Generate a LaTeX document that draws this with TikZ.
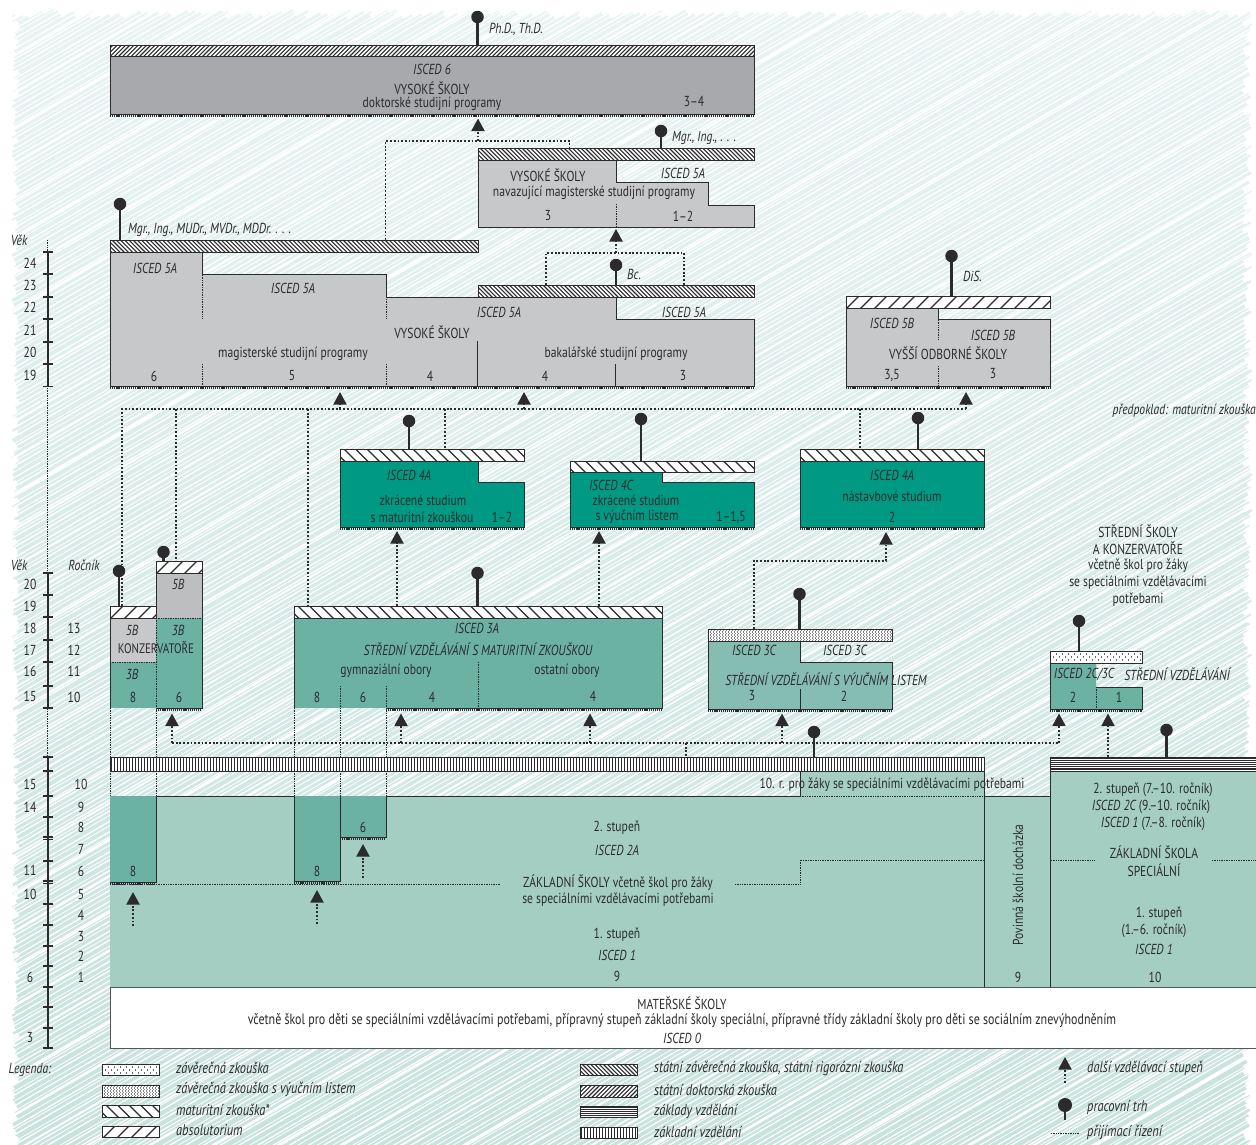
\documentclass[tikz,border=0pt]{standalone}
\usepackage{fontspec}
\setmainfont{PT Sans}[FakeStretch=0.8]
\usetikzlibrary{arrows.meta,calc}
\definecolor{ink}{HTML}{2B2B2D}
\definecolor{greyD}{HTML}{A7A9AC}
\definecolor{greyM}{HTML}{C7C8CA}
\definecolor{greyT}{HTML}{BCBEC0}
\definecolor{tealS}{HTML}{009A84}
\definecolor{tealM}{HTML}{6CB2A3}
\definecolor{tealC}{HTML}{85BDB2}
\definecolor{tealL}{HTML}{A5CEC3}
\definecolor{bgtop}{HTML}{E9F4F3}
\definecolor{bgbot}{HTML}{C8E2DC}
\newcounter{lb}
\newcommand\lab[4][]{\stepcounter{lb}\node[txt,#1] (t\thelb) at (#2,#3) {#4};}
\newcommand\barbox[6]{\pgfmathsetmacro\bw{#4-#2}\pgfmathsetmacro\bh{#5-#3}%
  \pgfmathsetmacro\bwp{\bw+24}\pgfmathsetmacro\bwh{\bw/2}\pgfmathsetmacro\bhh{\bh/2}%
  \node[barb,#6,minimum width=\bw pt,minimum height=\bh pt] (#1) at ({(#2+#4)/2},{(#3+#5)/2}) {};}
\newcommand\pinat[4]{\node[pinhead] (#1) at (#2,#3) {};\draw[stem] (#1.center) -- (#1.center |- #4.north);}
\newcommand\comb[3]{\draw[comb] (#1,#3+1.6) -- (#2,#3+1.6);}
\tikzset{
  x=1pt,y=-1pt,
  txt/.style={font=\fontsize{14.5}{16}\selectfont,inner sep=0pt,text=ink},
  itx/.style={font=\fontsize{14.5}{16}\selectfont\itshape},
  leg/.style={font=\fontsize{15.5}{17}\selectfont\itshape,anchor=west},
  barb/.style={draw=ink,line width=.9pt,fill=white,inner sep=0pt,outer sep=0pt},
  pinhead/.style={circle,fill=ink,minimum size=12.5pt,inner sep=0pt},
  stem/.style={ink,line width=2.1pt},
  comb/.style={ink,line width=2.6pt,dash pattern=on 1.2pt off .9pt},
  dots/.style={ink,line width=1.9pt,dash pattern=on 1.8pt off 1.9pt},
  flow/.style={dots,-{Triangle[length=12.5pt,width=13pt]}},
  thin dots/.style={ink,line width=.6pt,dash pattern=on .8pt off .9pt},
  edge/.style={ink,line width=1pt},
  tick/.style={ink,line width=1.4pt},
  back/.style n args={2}{path picture={\draw[ink,line width=#2]
     foreach \i in {0,#1,...,\bwp} {(-\bwh+\i-20,-\bhh-1) -- ++(16,16)};}},
  fwd/.style n args={2}{path picture={\draw[ink,line width=#2]
     foreach \i in {0,#1,...,\bwp} {(-\bwh+\i,-\bhh-1) -- ++(-16,16)};}},
  vert/.style={path picture={\draw[ink,line width=1.2pt]
     foreach \i in {1.5,4.5,...,\bw} {(-\bwh+\i,-\bhh) -- ++(0,16)};}},
  horz/.style={path picture={\draw[ink,line width=1.2pt]
     foreach \i in {1,3.2,...,15} {(-\bwh,-\bhh+\i) -- (\bwh,-\bhh+\i)};}},
  dotd/.style={path picture={\draw[ink!60,line width=1.1pt,dash pattern=on 1.1pt off 1.9pt]
       foreach \i in {1.5,4.5,...,13} {(-\bwh,-\bhh+\i) -- (\bwh,-\bhh+\i)};
    \draw[ink!60,line width=1.1pt,dash pattern=on 1.1pt off 1.9pt,dash phase=1.5pt]
       foreach \i in {3,6,...,13} {(-\bwh,-\bhh+\i) -- (\bwh,-\bhh+\i)};}},
  dots sparse/.style={path picture={\draw[ink!70,line width=1.3pt,dash pattern=on 1.3pt off 4.7pt]
       foreach \i in {3,9} {(-\bwh,-\bhh+\i) -- (\bwh,-\bhh+\i)};
    \draw[ink!70,line width=1.3pt,dash pattern=on 1.3pt off 4.7pt,dash phase=3pt] (-\bwh,-\bhh+6) -- (\bwh,-\bhh+6);}},
  statni/.style={back={4.2}{1.1pt}},
  doktor/.style={fwd={4.2}{1.1pt}},
  matur/.style={back={11.5}{1.1pt}},
  absol/.style={fwd={14}{1.1pt}},
}
\begin{document}
\begin{tikzpicture}
\useasboundingbox (0,0) rectangle (1256,1144);
\fill[white] (0,0) rectangle (1256,1144);
% ---------- hatched backdrop
\shade[top color=bgtop,bottom color=bgbot] (0,0) rectangle (1256,1144);
\begin{scope}
 \clip (0,0) rectangle (1256,1144);
 \pgfmathsetseed{11}
 \draw[white,line width=.8pt] foreach \i [evaluate=\i as \k using \i+rnd*4] in {0,17.2,...,3300} {(\k-2050,1160) -- ++(1500,-870) -- ++(1500,-870)};
 \draw[white,line width=1.3pt] foreach \i [evaluate=\i as \k using \i+rnd*4] in {8,25.2,...,3300} {(\k-2050,1160) -- ++(1500,-870) -- ++(1500,-870)};
 \draw[white,line width=2pt] foreach \i [evaluate=\i as \k using \i+rnd*4] in {31,94,...,3300} {(\k-2050,1160) -- ++(1500,-870) -- ++(1500,-870)};
 \draw[white,line width=5pt] foreach \yy [evaluate=\yy as \e using 12+rnd*7] in {0,4.5,...,1300} {(-5,\yy) -- (\e,\yy-\e*0.58-3)};
 \draw[white,line width=5pt] foreach \xx [evaluate=\xx as \e using 10+rnd*7] in {0,8,...,1400} {(\xx,-5) -- (\xx-\e/0.58-9,\e)};
 \draw[white,line width=5pt] foreach \yy [evaluate=\yy as \e using 1252-rnd*9] in {0,4.5,...,1200} {(1262,\yy) -- (\e,\yy+0.58*1262-0.58*\e)};
\end{scope}
% ---------- thin guides
\draw[thin dots] (47.5,240) -- (47.5,1040);
\foreach \xx in {110,156,294,340,386} \draw[thin dots] (\xx,708) -- (\xx,796);
% ---------- age axes
\draw[tick,line width=1.6pt] (48,252) -- (48,386.5);
\draw[tick] foreach \yy in {252,274,297,319,342,364,386.5} {(43,\yy) -- (53,\yy)};
\draw[tick,line width=1.6pt] (48,573) -- (48,708);
\draw[tick] foreach \yy in {573,595,617,640,662,686,708} {(43,\yy) -- (53,\yy)};
\draw[tick,line width=1.6pt] (48,757) -- (48,1048);
\draw[tick] foreach \yy in {757,771,796,817,837,839.5,861,881,883.5,904,925,946,966,987,1007,1028,1048} {(43,\yy) -- (53,\yy)};
% ---------- ISCED 6
\fill[greyD] (110,56) rectangle (754,114);
\draw[edge] (110,56) -- (110,114) -- (754,114) -- (754,56);
\comb{110}{754}{114}
\barbox{bdok}{110}{45}{754}{56}{doktor}
\pinat{pdok}{477.5}{17}{bdok}
% ---------- navazujici
\fill[greyM] (478,160) -- (616,160) -- (616,182) -- (708,182) -- (708,205) -- (754,205) -- (754,227) -- (478,227) -- cycle;
\draw[edge] (478,160) -- (478,227) -- (754,227) -- (754,205) -- (708,205) -- (708,182) -- (616,182) -- (616,160);
\draw[thin dots] (616,204) -- (616,227);
\barbox{bnav}{478}{148}{754}{160}{statni}
\pinat{pnav}{661}{131}{bnav}
% ---------- magisterske + bakalarske
\fill[greyM] (110,252) -- (202,252) -- (202,274) -- (386,274) -- (386,297) -- (616,297) -- (616,319) -- (754,319) -- (754,386) -- (110,386) -- cycle;
\draw[edge] (110,252) -- (110,386) -- (754,386) -- (754,319) -- (616,319) -- (616,297);
\draw[edge] (202,252) -- (202,274) -- (386,274) -- (386,297) -- (478,297);
\draw[edge] (477,341) -- (477,386);
\draw[edge] (615,364) -- (615,386);
\foreach \xx in {202,386}{\draw[thin dots] (\xx,275) -- (\xx,318);\draw[thin dots] (\xx,364) -- (\xx,386);}
\comb{110}{754}{386}
\barbox{blong}{110}{240}{478}{252}{statni}
\barbox{bbak}{478}{285}{754}{297}{statni}
\pinat{plong}{120}{204}{blong}
\pinat{pbak}{616}{265}{bbak}
% ---------- VOS
\fill[greyM] (846,308) -- (938,308) -- (938,319) -- (1050,319) -- (1050,386) -- (846,386) -- cycle;
\draw[edge] (846,308) -- (846,386) -- (1050,386) -- (1050,319) -- (938,319) -- (938,308);
\draw[thin dots] (938,320) -- (938,340);
\draw[thin dots] (938,366) -- (938,386);
\comb{846}{1050}{386}
\barbox{bvos}{846}{296}{1050}{308}{absol}
\pinat{pvos}{951.5}{256}{bvos}
% ---------- ISCED 4
\fill[tealS] (340,461) -- (478,461) -- (478,482) -- (524,482) -- (524,527) -- (340,527) -- cycle;
\draw[edge] (340,461) -- (340,527) -- (524,527) -- (524,482) -- (478,482) -- (478,461);
\comb{340}{524}{527}
\barbox{bzm}{340}{449}{524}{461}{matur}
\pinat{pzm}{409}{421}{bzm}
\fill[tealS] (570,472) -- (662,472) -- (662,482) -- (754,482) -- (754,527) -- (570,527) -- cycle;
\draw[edge] (570,472) -- (570,527) -- (754,527) -- (754,482) -- (662,482) -- (662,472);
\comb{570}{754}{527}
\barbox{bzv}{570}{461}{754}{472}{matur}
\pinat{pzv}{641}{419}{bzv}
\fill[tealS] (800,461) rectangle (984,527);
\draw[edge] (800,461) -- (800,527) -- (984,527) -- (984,461);
\comb{800}{984}{527}
\barbox{bna}{800}{449}{984}{461}{matur}
\pinat{pna}{918}{418}{bna}
% ---------- konzervatore
\fill[greyM] (110,618) rectangle (156,662);
\fill[tealM] (110,662) rectangle (156,708);
\draw[ink,line width=.5pt] (110,618) -- (110,708);
\draw[thin dots] (110,662) -- (156,662);
\fill[greyT] (156,573) rectangle (202,618);
\fill[tealM] (156,618) rectangle (202,708);
\draw[edge] (202,573) -- (202,708) -- (156,708);
\draw[edge] (156,573) -- (156,606);
\draw[thin dots] (156,618) -- (156,708);
\draw[thin dots] (156,618) -- (202,618);
\comb{156}{202}{708}
\barbox{bk1}{110}{606}{156}{618}{absol}
\barbox{bk2}{156}{561}{202}{573}{absol}
\pinat{pk1}{119}{571}{bk1}
\pinat{pk2}{163.5}{552}{bk2}
% ---------- 3A
\fill[tealM] (294,618) rectangle (662,708);
\draw[edge] (294,618) -- (294,708);
\draw[edge] (386,708) -- (662,708) -- (662,618);
\foreach \xx in {340,386} \draw[thin dots] (\xx,686) -- (\xx,708);
\draw[thin dots] (478,662) -- (478,708);
\comb{386}{662}{708}
\barbox{b3a}{294}{606}{662}{618}{matur}
\pinat{p3a}{477.5}{573}{b3a}
% ---------- 3C
\fill[tealC] (708,641) -- (800,641) -- (800,662) -- (892,662) -- (892,709) -- (708,709) -- cycle;
\draw[edge] (708,641) -- (708,709) -- (892,709) -- (892,662) -- (800,662) -- (800,641);
\draw[edge] (800,689) -- (800,709);
\comb{708}{892}{709}
\barbox{b3c}{708}{629}{892}{641}{dotd}
\pinat{p3c}{799.5}{594}{b3c}
% ---------- 2C/3C
\fill[tealM] (1050,663) -- (1096,663) -- (1096,687) -- (1142,687) -- (1142,709) -- (1050,709) -- cycle;
\draw[ink,line width=.5pt] (1050,663) -- (1050,709);
\draw[edge] (1050,709) -- (1142,709) -- (1142,687) -- (1096,687);
\draw[thin dots] (1096,687) -- (1096,709);
\comb{1050}{1142}{709}
\barbox{b2c}{1050}{651}{1142}{663}{dots sparse}
\pinat{p2c}{1079}{621}{b2c}
% ---------- zakladni skola
\fill[tealL] (110,796) -- (800,796) -- (800,771) -- (984,771) -- (984,987) -- (110,987) -- cycle;
\fill[tealL] (984,796) rectangle (1050,987);
\fill[tealL] (1050,771) rectangle (1256,987);
\fill[tealM] (110,796) rectangle (156,882);
\fill[tealM] (294,796) rectangle (340,881);
\fill[tealM] (340,796) rectangle (386,837);
\draw[edge] (156,796) -- (156,882) -- (110,882);
\draw[edge] (294,796) -- (294,881) -- (340,881) -- (340,796);
\draw[edge] (340,837) -- (386,837) -- (386,796);
\comb{110}{156}{882}
\comb{294}{340}{881}
\comb{340}{386}{837}
\draw[edge] (156,796) -- (294,796);
\draw[edge] (386,796) -- (800,796) -- (800,771);
\draw[thin dots] (800,796) -- (984,796);
\draw[edge] (984,796) -- (1050,796);
\draw[edge] (984,771) -- (984,987);
\draw[edge] (1050,771) -- (1050,987);
\draw[thin dots] (110,884) -- (500,884);
\draw[thin dots] (735,884) -- (800,884) -- (800,860) -- (984,860);
\draw[thin dots] (1051,860) -- (1095,860);
\draw[thin dots] (1212,860) -- (1256,860);
\barbox{bzak}{110}{757}{984}{771}{vert}
\barbox{bzav}{1050}{757}{1256}{771}{horz}
\pinat{pzak}{814}{732}{bzak}
\pinat{pzav}{1166.5}{730}{bzav}
% ---------- materske skoly
\node[draw=ink!80,line width=1pt,fill=white,minimum width=1146pt,minimum height=61pt,inner sep=0pt,outer sep=0pt] (bmat) at (683,1017.5) {};
% ---------- admission flows
\coordinate (hubA) at (122,409);
\coordinate (tipA) at (340,392);
\coordinate (tipB) at (524,392);
\coordinate (tipC) at (966,392);
\draw[dots] (bk1.north -| hubA) -- (hubA) -- (tipC |- hubA);
\foreach \t in {A,B,C} \draw[flow] (tip\t |- hubA) -- (tip\t);
\coordinate (d1) at (176,409); \draw[dots] (d1) -- (d1 |- bk2.north);
\coordinate (d2) at (308,409); \draw[dots] (d2) -- (d2 |- b3a.north);
\coordinate (d3) at (445,409); \draw[dots] (d3) -- (d3 |- bzm.north);
\coordinate (d4) at (860,409); \draw[dots] (d4) -- (d4 |- bna.north);
\coordinate (tipD) at (397,531); \draw[flow] (tipD |- b3a.north) -- (tipD);
\coordinate (tipE) at (599,531); \draw[flow] (tipE |- b3a.north) -- (tipE);
\coordinate (tipF) at (886,532); \coordinate (e1) at (754,561);
\draw[flow] (e1 |- b3c.north) -- (e1) -- (tipF |- e1) -- (tipF);
\coordinate (hubB) at (172,743);
\coordinate (tipG) at (172,713.5);
\coordinate (tipH) at (401,713.5);
\coordinate (tipI) at (590,713.5);
\coordinate (tipJ) at (782,713.5);
\coordinate (tipK) at (1059,713.5);
\draw[dots] (hubB) -- (tipK |- hubB);
\foreach \t in {G,H,I,J,K} \draw[flow] (tip\t |- hubB) -- (tip\t);
\coordinate (f1) at (686,743); \draw[dots] (f1) -- (f1 |- bzak.north);
\coordinate (tipL) at (1108,713.5); \draw[flow] (tipL |- bzav.north) -- (tipL);
\coordinate (tipM) at (478,118.5); \coordinate (g1) at (385.5,141); \coordinate (g2) at (569.5,141);
\draw[dots] (g1 |- blong.north) -- (g1) -- (g2) -- (g2 |- bnav.north);
\draw[flow] (tipM |- g1) -- (tipM);
\coordinate (tipN) at (616,229); \coordinate (h1) at (546,253); \coordinate (h2) at (684,253);
\draw[dots] (h1 |- bbak.north) -- (h1) -- (h2) -- (h2 |- bbak.north);
\draw[flow] (tipN |- h1) -- (tipN);
\coordinate (tipO) at (133,892); \coordinate (o1) at (133,926); \draw[flow] (o1) -- (tipO);
\coordinate (tipP) at (317,890); \coordinate (p1) at (317,924); \draw[flow] (p1) -- (tipP);
\coordinate (tipQ) at (363,844); \coordinate (q1) at (363,878); \draw[flow] (q1) -- (tipQ);
% ---------- axis labels
\lab[itx]{19}{240}{Věk}
\lab[itx]{19}{565}{Věk}
\lab[itx]{84}{565}{Ročník}
\foreach \a/\yy in {24/263,23/285,22/307,21/330,20/352,19/375,20/584,19/606,18/628,17/650,16/671,15/696,15/784,14/807,11/870,10/894,6/977,3/1037} {\lab{30}{\yy}{\a}}
\foreach \a/\yy in {13/628,12/650,11/671,10/697} {\lab{74}{\yy}{\a}}
\foreach \a/\yy in {10/784,9/807,8/827,7/849,6/871,5/894,4/915,3/936,2/956,1/977} {\lab{81}{\yy}{\a}}
% ---------- degrees
\lab[itx,anchor=west]{489}{29}{Ph.D., Th.D.}
\lab[itx,anchor=west]{672}{138}{Mgr., Ing., . . .}
\lab[itx,anchor=west]{128}{230}{Mgr., Ing., MUDr., MVDr., MDDr. . . .}
\lab[itx,anchor=west]{627}{274}{Bc.}
\lab[itx,anchor=west]{963}{276}{DiS.}
\lab[itx,anchor=east]{1256}{411}{předpoklad: maturitní zkouška}
% ---------- top boxes
\lab[itx]{432}{69}{ISCED 6}
\lab{432}{88}{VYSOKÉ ŠKOLY}
\lab{432}{104}{doktorské studijní programy}
\lab{694}{101}{3–4}
\lab{548}{175}{VYSOKÉ ŠKOLY}
\lab{594}{193}{navazující magisterské studijní programy}
\lab{548}{216}{3}
\lab{683}{216}{1–2}
\lab[itx]{683}{173}{ISCED 5A}
\lab[itx]{155}{268}{ISCED 5A}
\lab[itx]{293}{288}{ISCED 5A}
\lab[itx]{499}{312}{ISCED 5A}
\lab[itx]{684}{312}{ISCED 5A}
\lab{432}{332}{VYSOKÉ ŠKOLY}
\lab{293}{354}{magisterské studijní programy}
\lab{616}{354}{bakalářské studijní programy}
\lab{154}{376}{6}\lab{292}{376}{5}\lab{430}{376}{4}\lab{545}{376}{4}\lab{683}{376}{3}
\lab[itx]{892}{323}{ISCED 5B}
\lab[itx]{993}{335}{ISCED 5B}
\lab{948}{353}{VYŠŠÍ ODBORNÉ ŠKOLY}
\lab{892}{375}{3,5}
\lab{993}{374}{3}
% ---------- ISCED 4
\lab[itx]{409}{475}{ISCED 4A}
\lab{423}{500}{zkrácené studium}
\lab{422}{517}{s maturitní zkouškou}
\lab{502}{517}{1–2}
\lab[itx]{611}{485}{ISCED 4C}
\lab{636}{500}{zkrácené studium}
\lab{637}{517}{s výučním listem}
\lab{731}{517}{1–1,5}
\lab[itx]{892}{475}{ISCED 4A}
\lab{892}{496}{nástavbové studium}
\lab{892}{517}{2}
% ---------- secondary
\lab[itx]{132}{630}{5B}
\lab[font=\fontsize{13.8}{16}\selectfont]{156}{648}{KONZERVATOŘE}
\lab[itx]{132}{674}{3B}
\lab{133}{697}{8}
\lab[itx]{178}{584}{5B}
\lab[itx]{178}{630}{3B}
\lab{179}{697}{6}
\lab[itx]{477}{628}{ISCED 3A}
\lab[itx]{478}{649}{STŘEDNÍ VZDĚLÁVÁNÍ S MATURITNÍ ZKOUŠKOU}
\lab{386}{671}{gymnaziální obory}
\lab{567}{671}{ostatní obory}
\lab{317}{697}{8}\lab{363}{697}{6}\lab{432}{697}{4}\lab{593}{696}{4}
\lab[itx]{754}{650}{ISCED 3C}
\lab[itx]{845}{650}{ISCED 3C}
\lab[itx]{826}{679}{STŘEDNÍ VZDĚLÁVÁNÍ S VÝUČNÍM LISTEM}
\lab{752}{696}{3}\lab{844}{696}{2}
\lab[itx]{1084}{674}{ISCED 2C/3C}
\lab[itx]{1177}{674}{STŘEDNÍ VZDĚLÁVÁNÍ}
\lab{1073}{697}{2}\lab{1119}{697}{1}
\lab{1138}{531}{STŘEDNÍ ŠKOLY}
\lab{1138}{548}{A KONZERVATOŘE}
\lab{1138}{566}{včetně škol pro žáky}
\lab{1138}{583}{se speciálními vzdělávacími}
\lab{1138}{600}{potřebami}
% ---------- primary
\lab{892}{785}{10. r. pro žáky se speciálními vzdělávacími potřebami}
\lab{133}{871}{8}\lab{317}{871}{8}\lab{363}{827}{6}
\lab{617}{828}{2. stupeň}
\lab[itx]{617}{850}{ISCED 2A}
\lab{618}{883}{ZÁKLADNÍ ŠKOLY včetně škol pro žáky}
\lab{618}{900}{se speciálními vzdělávacími potřebami}
\lab{617}{935}{1. stupeň}
\lab[itx]{617}{955}{ISCED 1}
\lab{617}{976}{9}
\lab[rotate=90]{1018}{885}{Povinná školní docházka}
\lab{1018}{977}{9}
\lab{1153}{790}{2. stupeň (7.–10. ročník)}
\lab{1151}{807}{{\itshape ISCED 2C} (9.–10. ročník)}
\lab{1153}{824}{{\itshape ISCED 1} (7.–8. ročník)}
\lab{1154}{852}{ZÁKLADNÍ ŠKOLA}
\lab{1154}{870}{SPECIÁLNÍ}
\lab{1159}{914}{1. stupeň}
\lab{1154}{931}{(1.–6. ročník)}
\lab[itx]{1154}{949}{ISCED 1}
\lab{1155}{977}{10}
\lab{682}{1003}{MATEŘSKÉ ŠKOLY}
\lab[font=\fontsize{15}{17}\selectfont]{682}{1021}{včetně škol pro děti se speciálními vzdělávacími potřebami, přípravný stupeň základní školy speciální, přípravné třídy základní školy pro děti se sociálním znevýhodněním}
\lab[itx]{682}{1038}{ISCED 0}
% ---------- legend
\lab[itx]{30}{1070}{Legenda:}
\barbox{l1}{102}{1064}{159}{1075}{dots sparse}
\barbox{l2}{102}{1085}{159}{1097}{dotd}
\barbox{l3}{102}{1105}{159}{1117}{matur}
\barbox{l4}{102}{1126}{159}{1137}{absol}
\barbox{l5}{580}{1064}{637}{1075}{statni}
\barbox{l6}{580}{1085}{637}{1097}{doktor}
\barbox{l7}{580}{1106}{637}{1117}{horz}
\barbox{l8}{580}{1127}{637}{1138}{vert}
\lab[leg]{176}{1068}{závěrečná zkouška}
\lab[leg]{176}{1089}{závěrečná zkouška s výučním listem}
\lab[leg]{176}{1110}{maturitní zkouška*}
\lab[leg]{176}{1130}{absolutorium}
\lab[leg]{654}{1068}{státní závěrečná zkouška, státní rigorózní zkouška}
\lab[leg]{654}{1090}{státní doktorská zkouška}
\lab[leg]{654}{1111}{základy vzdělání}
\lab[leg]{654}{1132}{základní vzdělání}
\coordinate (tipR) at (1065,1057); \coordinate (r1) at (1065,1083); \draw[flow] (r1) -- (tipR);
\node[pinhead,minimum size=14pt] (pleg) at (1065,1105) {}; \coordinate (r2) at (1065,1120); \draw[stem] (pleg.center) -- (r2);
\coordinate (s1) at (1051,1133); \coordinate (s2) at (1079,1133); \draw[thin dots,line width=1pt] (s1) -- (s2);
\lab[leg]{1087}{1068}{další vzdělávací stupeň}
\lab[leg]{1087}{1107}{pracovní trh}
\lab[leg]{1087}{1132}{přijímací řízení}
\end{tikzpicture}
\end{document}
